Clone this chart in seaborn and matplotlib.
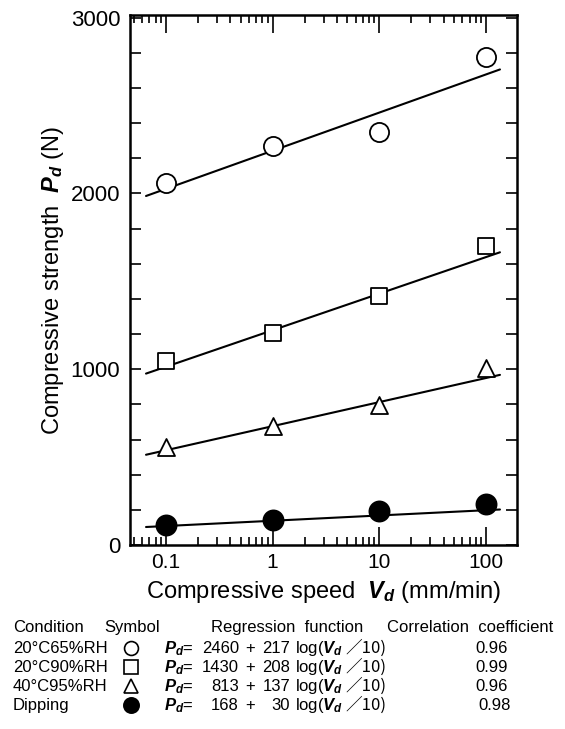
import numpy as np
import pandas as pd
import seaborn as sns
import matplotlib.pyplot as plt
from matplotlib.lines import Line2D
from matplotlib.ticker import FixedLocator, FixedFormatter, NullFormatter

# データ
speeds = [0.1, 1, 10, 100]
conditions = ['20°C65%RH', '20°C90%RH', '40°C95%RH', 'Dipping']
p_20c65 = [2057, 2267, 2352, 2778]
p_20c90 = [1045, 1205, 1415, 1699]
p_40c95 = [557, 676, 795, 1006]
p_dipping = [114, 142, 193, 233]
intercepts = [2460, 1430, 813, 168]
slopes = [217, 208, 137, 30]
r_values = ['0.96', '0.99', '0.96', '0.98']
x_ticks = [0.1, 1, 10, 100]
x_tick_labels = ['0.1', '1', '10', '100']
y_ticks = [0, 1000, 2000, 3000]

sns.set_theme(style='ticks')
plt.rcParams['font.family'] = ['Liberation Sans', 'DejaVu Sans']
plt.rcParams['mathtext.fontset'] = 'custom'
plt.rcParams['mathtext.rm'] = 'Liberation Sans'
plt.rcParams['mathtext.it'] = 'Liberation Sans:bold:italic'
plt.rcParams['mathtext.bf'] = 'Liberation Sans:bold'
# 文字色は黒
for k in ['text.color', 'axes.labelcolor', 'xtick.color', 'ytick.color']:
    plt.rcParams[k] = 'black'

W, H = 565, 729
fig = plt.figure(figsize=(W / 100, H / 100), dpi=100)
ax = fig.add_axes([130 / W, 1 - 545 / H, 387 / W, 530 / H])

series = [p_20c65, p_20c90, p_40c95, p_dipping]
markers = ['o', 's', '^', 'o']
faces = ['white', 'white', 'white', 'black']
sizes = [190, 135, 150, 210]

# 回帰直線
v_line = np.array([0.065, 135])
for a, b in zip(intercepts, slopes):
    sns.lineplot(x=v_line, y=a + b * np.log10(v_line / 10), color='black',
                 linewidth=1.5, ax=ax)

# 測定点
for vals, m, fc, s in zip(series, markers, faces, sizes):
    df = pd.DataFrame({'speed': speeds, 'p': vals})
    sns.scatterplot(data=df, x='speed', y='p', marker=m, s=s, facecolor=fc,
                    edgecolor='black', linewidth=1.3, zorder=3, ax=ax)

ax.set_xscale('log')
ax.set_xlim(0.046, 195)
ax.set_ylim(0, 3015)

ax.xaxis.set_major_locator(FixedLocator(x_ticks))
ax.xaxis.set_major_formatter(FixedFormatter(x_tick_labels))
minor_x = [d * k for d in [0.01, 0.1, 1, 10, 100] for k in range(2, 10)]
ax.xaxis.set_minor_locator(FixedLocator(minor_x))
ax.xaxis.set_minor_formatter(NullFormatter())
ax.yaxis.set_major_locator(FixedLocator(y_ticks))
ax.yaxis.set_minor_locator(FixedLocator(list(range(0, 3001, 200))))

ax.tick_params(axis='both', which='both', direction='in', top=True, right=True,
               width=1.2, color='black')
ax.tick_params(axis='x', which='major', length=13, labelsize=15, pad=6)
ax.tick_params(axis='x', which='minor', length=6)
ax.tick_params(axis='y', which='both', length=8, labelsize=16, pad=7)
for sp in ax.spines.values():
    sp.set_linewidth(1.8)
    sp.set_color('black')

ax.set_xlabel(r'Compressive speed  $V_{d}$ (mm/min)', fontsize=17, labelpad=5)
ax.set_ylabel(r'Compressive strength  $P_{d}$ (N)', fontsize=17, labelpad=3)


# 表
def fx(x):
    return x / W


def fy(y):
    return 1 - y / H


fs = 12
bl = 5  # 行の中心からベースラインまで
fig.text(fx(13), fy(627 + bl), 'Condition', fontsize=fs, va='baseline')
fig.text(fx(104), fy(627 + bl), 'Symbol', fontsize=fs, va='baseline')
fig.text(fx(287), fy(627 + bl), 'Regression  function', fontsize=fs,
         va='baseline', ha='center')
fig.text(fx(387), fy(627 + bl), 'Correlation  coefficient', fontsize=fs, va='baseline')

row_y = [648, 667, 686, 705]
sym_sizes = [10, 9.5, 10, 11]
for i, yy in enumerate(row_y):
    yb = fy(yy + bl)
    fig.text(fx(13), yb, conditions[i], fontsize=fs, va='baseline')
    fig.add_artist(Line2D([fx(131)], [fy(yy)], transform=fig.transFigure,
                          marker=markers[i], ms=sym_sizes[i], mfc=faces[i],
                          mec='black', mew=1.2, linestyle='none'))
    fig.text(fx(164), yb, r'$P_{d}$=', fontsize=fs, va='baseline')
    fig.text(fx(239), yb, str(intercepts[i]), fontsize=fs, va='baseline', ha='right')
    fig.text(fx(250), yb, '+', fontsize=fs, va='baseline', ha='center')
    fig.text(fx(290), yb, str(slopes[i]), fontsize=fs, va='baseline', ha='right')
    fig.text(fx(295), yb, r'log($V_{d}$', fontsize=fs, va='baseline')
    fig.text(fx(345), yb, '／10)', fontsize=fs, va='baseline',
             family=['Noto Sans CJK JP', 'DejaVu Sans'])
    fig.text(fx(492 + (3 if i == 3 else 0)), yb, r_values[i], fontsize=fs,
             va='baseline', ha='center')

fig.savefig('out.png', dpi=100)
